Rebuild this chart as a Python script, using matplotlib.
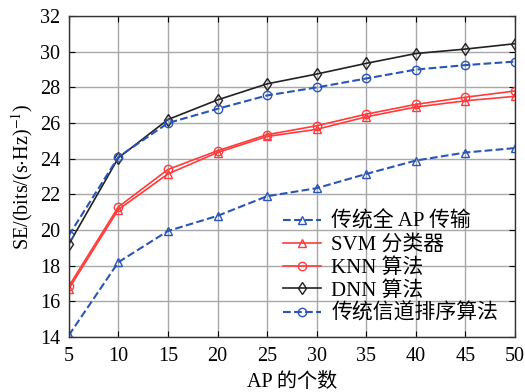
import matplotlib
matplotlib.use("Agg")
import matplotlib.pyplot as plt

plt.rcParams['font.family'] = ['Liberation Serif', 'Noto Sans CJK SC']
plt.rcParams['mathtext.fontset'] = 'stix'

ap = [5, 10, 15, 20, 25, 30, 35, 40, 45, 50]
full_ap = [14.1, 18.2, 19.95, 20.8, 21.9, 22.35, 23.15, 23.9, 24.35, 24.6]
svm = [16.7, 21.15, 23.15, 24.35, 25.25, 25.65, 26.35, 26.9, 27.25, 27.5]
knn = [16.85, 21.3, 23.4, 24.45, 25.35, 25.85, 26.5, 27.05, 27.45, 27.8]
dnn = [19.2, 24.05, 26.2, 27.3, 28.2, 28.75, 29.35, 29.9, 30.15, 30.45]
trad = [19.7, 24.1, 26.0, 26.8, 27.55, 28.0, 28.5, 29.0, 29.25, 29.45]
labels = ['传统全 AP 传输', 'SVM 分类器', 'KNN 算法', 'DNN 算法', '传统信道排序算法']
xticks = [5, 10, 15, 20, 25, 30, 35, 40, 45, 50]
yticks = [14, 16, 18, 20, 22, 24, 26, 28, 30, 32]

blue = '#2a55b8'
red = '#ff3b3b'
black = '#222222'

fig = plt.figure(figsize=(5.25, 3.92), dpi=100)
ax = fig.add_axes([0.131, 0.140, 0.850, 0.819])

ms = 6
ax.plot(ap, full_ap, '--', color=blue, marker='^', mfc='none', ms=ms, lw=1.5, label=labels[0])
ax.plot(ap, svm, '-', color=red, marker='^', mfc='none', ms=ms, lw=1.2, label=labels[1])
ax.plot(ap, knn, '-', color=red, marker='o', mfc='none', ms=ms, lw=1.2, label=labels[2])
ax.plot(ap, dnn, '-', color=black, marker='d', mfc='none', ms=ms, lw=1.2, label=labels[3])
ax.plot(ap, trad, '--', color=blue, marker='o', mfc='none', ms=ms, lw=1.5, label=labels[4])

ax.set_xlim(5, 50)
ax.set_ylim(14, 32)
ax.set_xticks(xticks)
ax.set_yticks(yticks)
ax.grid(True, color='#a8a8a8', lw=1.0)
ax.tick_params(direction='in', top=True, right=True, labelsize=14.5, length=4)
ax.tick_params(axis='x', pad=7)
ax.tick_params(axis='y', pad=6)
for s in ax.spines.values():
    s.set_color('#333333')
    s.set_linewidth(1.0)

ax.set_xlabel('AP 的个数', fontsize=14.5, labelpad=5)
ax.set_ylabel(r'SE/(bits/(s$\cdot$Hz)$^{-1}$)', fontsize=14.5, labelpad=4)

leg = ax.legend(loc='lower right', bbox_to_anchor=(0.972, 0.028), fontsize=15,
                frameon=False, handlelength=1.8, labelspacing=0.15,
                borderaxespad=0.0, borderpad=0.2, handletextpad=0.5)

fig.savefig('out.png', dpi=100)
